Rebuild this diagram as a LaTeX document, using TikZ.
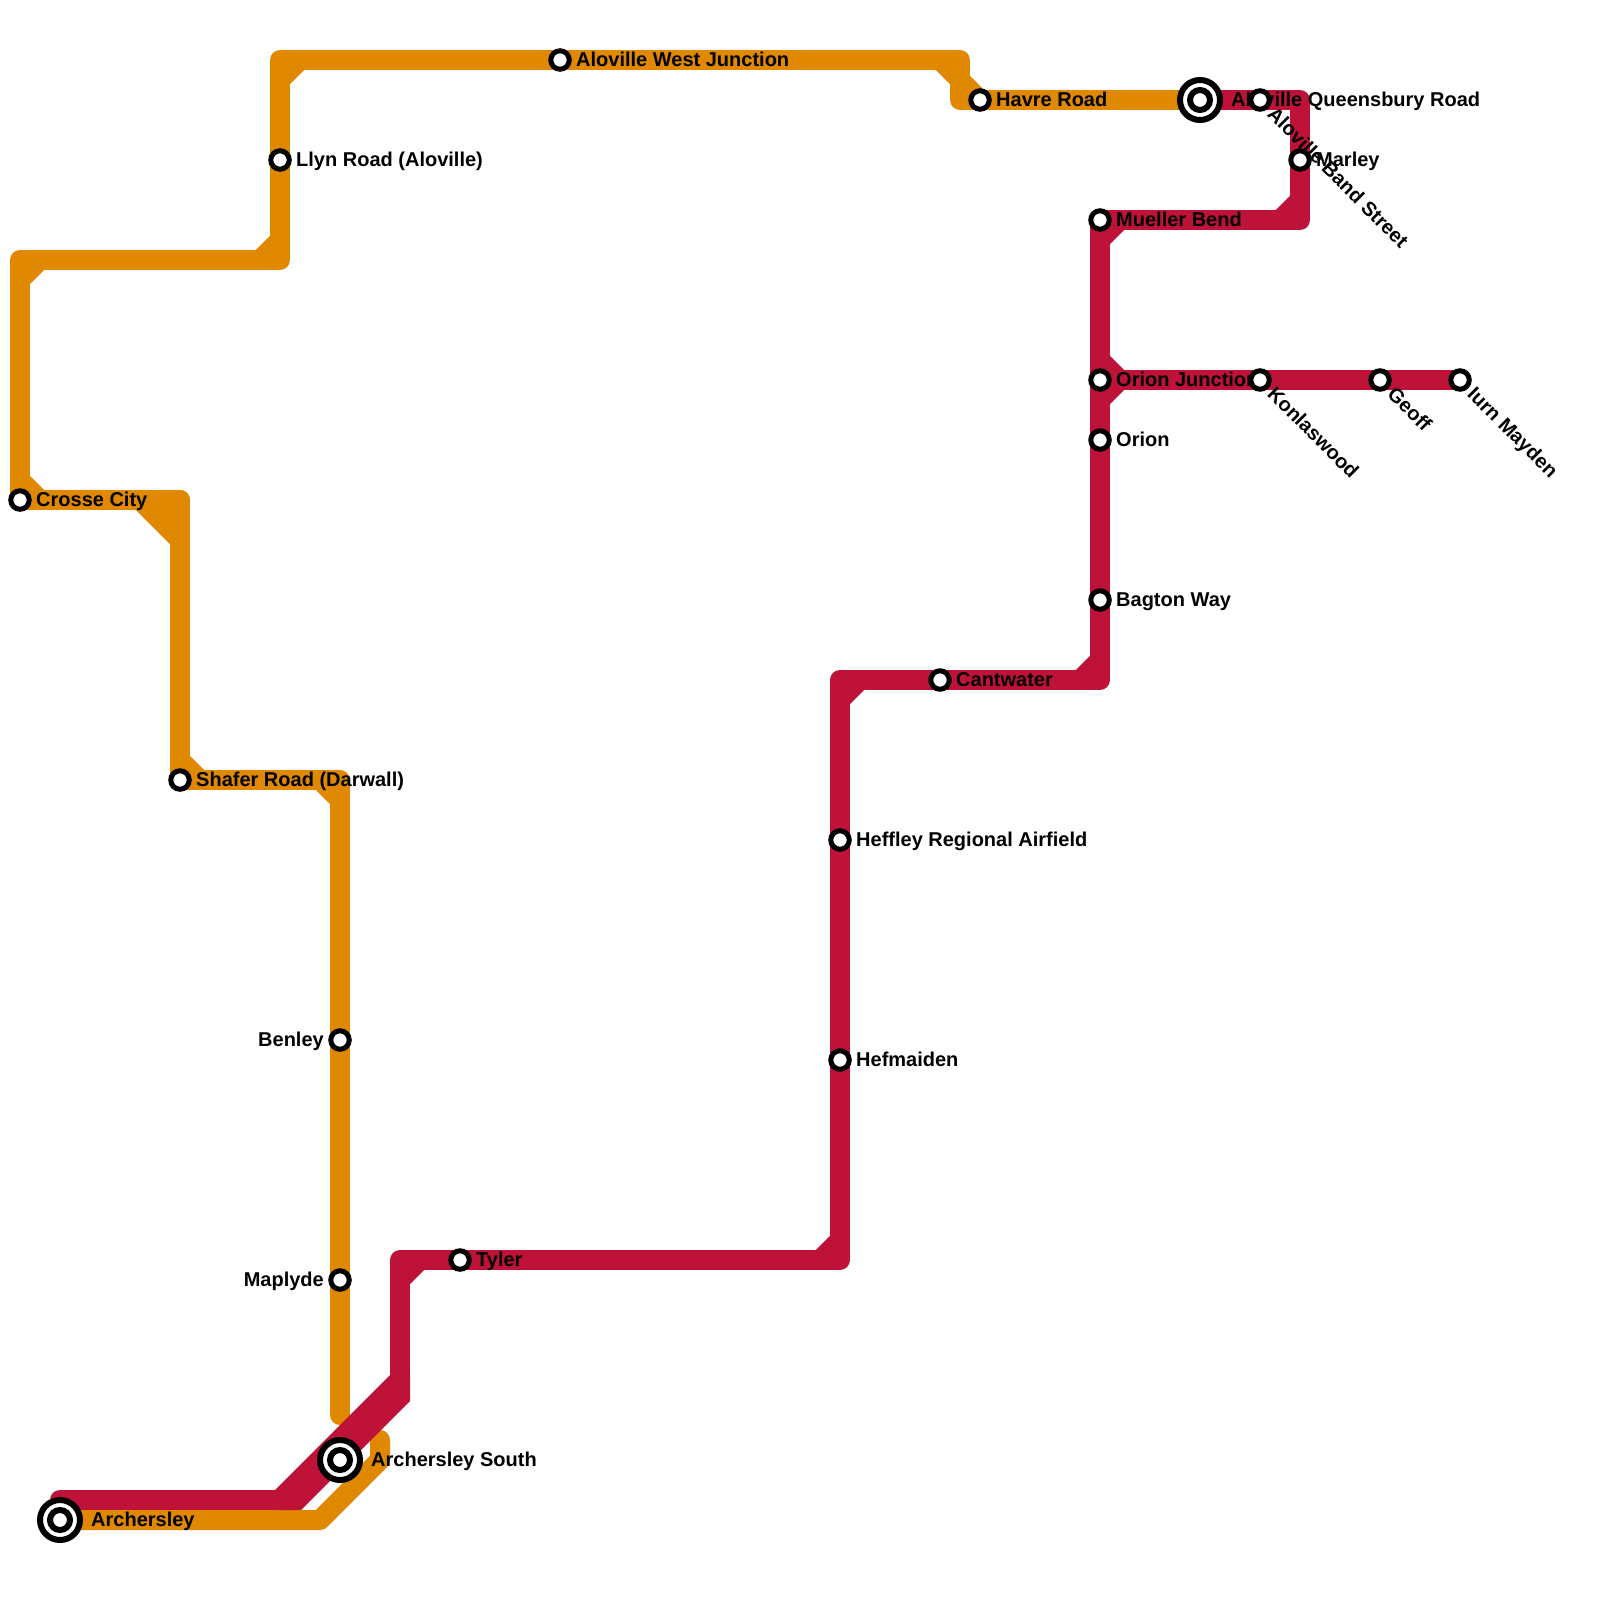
\documentclass[tikz,border=0pt]{standalone}
\usepackage{fontspec}
\setmainfont{Liberation Sans}
\definecolor{lorange}{HTML}{E08800}
\definecolor{lred}{HTML}{BE1238}
\begin{document}
\begin{tikzpicture}[x=1pt,y=-1pt,
  oline/.style={draw=lorange, line width=20pt, line cap=round, line join=round},
  rline/.style={draw=lred, line width=20pt, line cap=round, line join=round},
  ochamf/.style={draw=lorange, line width=20pt, line cap=butt},
  rchamf/.style={draw=lred, line width=20pt, line cap=butt},
  stn/.style={circle, draw=black, fill=white, line width=5pt, minimum size=18.5pt, inner sep=0pt},
  xout/.style={circle, draw=black, fill=white, line width=6pt, minimum size=40pt, inner sep=0pt},
  xin/.style={circle, draw=black, fill=white, line width=6pt, minimum size=20pt, inner sep=0pt},
  lbl/.style={font=\bfseries\fontsize{20}{24}\selectfont, text height=14.3pt, text depth=0pt, inner sep=0pt, text=black, yshift=1pt},
  lblr/.style={lbl, anchor=west},
  lbll/.style={lbl, anchor=east},
  lblrot/.style={lbl, anchor=west, rotate=-45}]
\useasboundingbox (0,0) rectangle (1600,1600);
\fill[white] (0,0) rectangle (1600,1600);

% station positions
\coordinate (awj) at (560,60);
\coordinate (llyn) at (280,160);
\coordinate (crosse) at (20,500);
\coordinate (shafer) at (180,780);
\coordinate (benley) at (340,1040);
\coordinate (maplyde) at (340,1280);
\coordinate (archs) at (340,1460);
\coordinate (arch) at (60,1520);
\coordinate (tyler) at (460,1260);
\coordinate (havre) at (980,100);
\coordinate (aloq) at (1200,100);
\coordinate (alob) at (1260,100);
\coordinate (marley) at (1300,160);
\coordinate (mueller) at (1100,220);
\coordinate (orionj) at (1100,380);
\coordinate (konl) at (1260,380);
\coordinate (geoff) at (1380,380);
\coordinate (iurn) at (1460,380);
\coordinate (orion) at (1100,440);
\coordinate (bagton) at (1100,600);
\coordinate (cant) at (940,680);
\coordinate (heff) at (840,840);
\coordinate (hefm) at (840,1060);

% orange corners
\coordinate (c1) at (320,1520);
\coordinate (c2) at (380,1460);
\coordinate (c3) at (380,1440);
\coordinate (c4) at (340,1415);
\coordinate (c5) at (340,780);
\coordinate (c6) at (180,500);
\coordinate (c7) at (20,260);
\coordinate (c8) at (280,260);
\coordinate (c9) at (280,60);
\coordinate (c10) at (960,60);
\coordinate (c11) at (960,100);

% red corners
\coordinate (r1) at (1300,100);
\coordinate (r2) at (1300,220);
\coordinate (r3) at (1100,680);
\coordinate (r4) at (840,680);
\coordinate (r5) at (840,1260);
\coordinate (r6) at (400,1260);
\coordinate (r7) at (400,1390);
\coordinate (r8) at (290,1500);
\coordinate (r9) at (60,1500);

% ---- orange line
\draw[oline] (arch) -- (c1) -- (c2) -- (c3);
\draw[oline] (c4) -- (maplyde) -- (benley) -- (c5) -- (shafer) -- (c6);
\draw[oline] (c6) -- (crosse);
\draw[oline] (crosse) -- (c7) -- (c8) -- (llyn) -- (c9) -- (awj) -- (c10) -- (c11) -- (havre) -- (aloq);
% orange chamfers
\draw[ochamf] (320,780) -- (340,800);
\draw[ochamf] (180,760) -- (200,780);
\fill[lorange] (130.86,505) -- (175,505) -- (175,549.14) -- cycle;
\draw[ochamf] (20,480) -- (40,500);
\draw[ochamf] (20,280) -- (40,260);
\draw[ochamf] (260,260) -- (280,240);
\draw[ochamf] (280,80) -- (300,60);
\draw[ochamf] (940,60) -- (980,100);

% ---- red line
\draw[rline] (aloq) -- (alob) -- (r1) -- (marley) -- (r2) -- (mueller) -- (orionj) -- (orion) -- (bagton) -- (r3) -- (cant) -- (r4) -- (heff) -- (hefm) -- (r5) -- (tyler) -- (r6) -- (r7);
\fill[lred] (390,1375) -- (410,1375) -- (410,1401) -- (301,1510) -- (275,1510) -- (275,1490) -- cycle;
\draw[rline] (r8) -- (r9);
\draw[rline] (orionj) -- (konl) -- (geoff) -- (iurn);
% red chamfers
\draw[rchamf] (1300,200) -- (1280,220);
\draw[rchamf] (1120,220) -- (1100,240);
\draw[rchamf] (1100,660) -- (1080,680);
\draw[rchamf] (860,680) -- (840,700);
\draw[rchamf] (840,1240) -- (820,1260);
\draw[rchamf] (420,1260) -- (400,1280);
\draw[rchamf] (1100,360) -- (1120,380);
\draw[rchamf] (1100,400) -- (1120,380);

% ---- labels
\node[lblr] (lAwj) at ([xshift=16pt]awj) {Aloville West Junction};
\node[lblr] (lLlyn) at ([xshift=16pt]llyn) {Llyn Road (Aloville)};
\node[lblr] (lCrosse) at ([xshift=16pt]crosse) {Crosse City};
\node[lblr] (lShafer) at ([xshift=16pt]shafer) {Shafer Road (Darwall)};
\node[lbll] (lBenley) at ([xshift=-16pt]benley) {Benley};
\node[lbll] (lMaplyde) at ([xshift=-16pt]maplyde) {Maplyde};
\node[lblr] (lArchs) at ([xshift=31pt]archs) {Archersley South};
\node[lblr] (lArch) at ([xshift=31pt]arch) {Archersley};
\node[lblr] (lTyler) at ([xshift=16pt]tyler) {Tyler};
\node[lblr] (lHavre) at ([xshift=16pt]havre) {Havre Road};
\node[lblr] (lAloq) at ([xshift=31pt]aloq) {Aloville Queensbury Road};
\node[lblrot] (lAlob) at ([shift={(11.3,11.3)}]alob) {Aloville Band Street};
\node[lblr] (lMarley) at ([xshift=16pt]marley) {Marley};
\node[lblr] (lMueller) at ([xshift=16pt]mueller) {Mueller Bend};
\node[lblr] (lOrionj) at ([xshift=16pt]orionj) {Orion Junction};
\node[lblrot] (lKonl) at ([shift={(11.3,11.3)}]konl) {Konlaswood};
\node[lblrot] (lGeoff) at ([shift={(11.3,11.3)}]geoff) {Geoff};
\node[lblrot] (lIurn) at ([shift={(11.3,11.3)}]iurn) {Iurn Mayden};
\node[lblr] (lOrion) at ([xshift=16pt]orion) {Orion};
\node[lblr] (lBagton) at ([xshift=16pt]bagton) {Bagton Way};
\node[lblr] (lCant) at ([xshift=16pt]cant) {Cantwater};
\node[lblr] (lHeff) at ([xshift=16pt]heff) {Heffley Regional Airfield};
\node[lblr] (lHefm) at ([xshift=16pt]hefm) {Hefmaiden};

% ---- stations
\node[stn] (sAwj) at (awj) {};
\node[stn] (sLlyn) at (llyn) {};
\node[stn] (sCrosse) at (crosse) {};
\node[stn] (sShafer) at (shafer) {};
\node[stn] (sBenley) at (benley) {};
\node[stn] (sMaplyde) at (maplyde) {};
\node[stn] (sTyler) at (tyler) {};
\node[stn] (sHavre) at (havre) {};
\node[stn] (sAlob) at (alob) {};
\node[stn] (sMarley) at (marley) {};
\node[stn] (sMueller) at (mueller) {};
\node[stn] (sOrionj) at (orionj) {};
\node[stn] (sKonl) at (konl) {};
\node[stn] (sGeoff) at (geoff) {};
\node[stn] (sIurn) at (iurn) {};
\node[stn] (sOrion) at (orion) {};
\node[stn] (sBagton) at (bagton) {};
\node[stn] (sCant) at (cant) {};
\node[stn] (sHeff) at (heff) {};
\node[stn] (sHefm) at (hefm) {};
\node[xout] (sArchs) at (archs) {};
\node[xin] (sArchsI) at (archs) {};
\node[xout] (sArch) at (arch) {};
\node[xin] (sArchI) at (arch) {};
\node[xout] (sAloq) at (aloq) {};
\node[xin] (sAloqI) at (aloq) {};
\end{tikzpicture}
\end{document}
